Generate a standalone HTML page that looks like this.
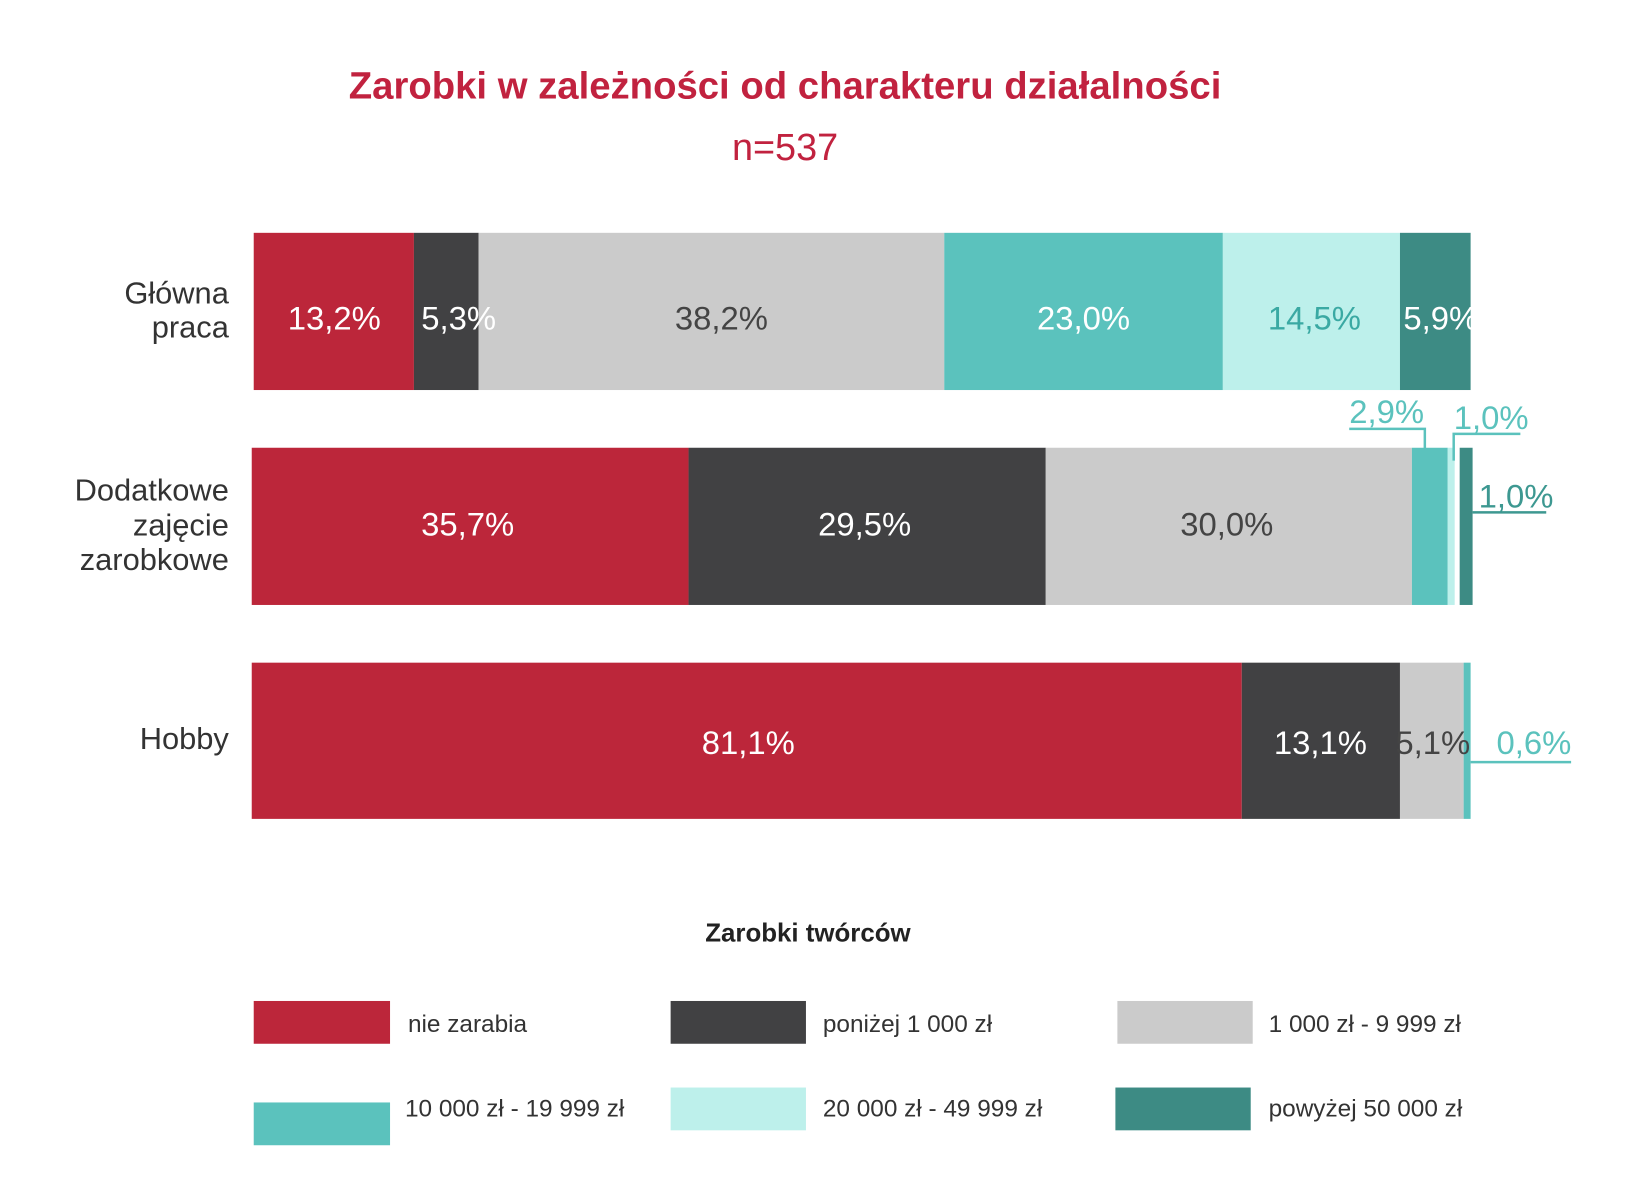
<!DOCTYPE html>
<html><head><meta charset="utf-8"><style>
body{margin:0;background:#fff;}
svg{display:block;font-family:"Liberation Sans",sans-serif;}
</style></head><body>
<svg width="1630" height="1178" viewBox="0 0 1630 1178">
<g transform="scale(0.995)">
<text x="789" y="99" text-anchor="middle" font-size="38.5" font-weight="bold" fill="#c1223f">Zarobki w zależności od charakteru działalności</text>
<text x="789" y="161" text-anchor="middle" font-size="38" fill="#c1223f">n=537</text>
<g font-size="31" fill="#333" text-anchor="end">
<text x="230" y="305">Główna</text><text x="230" y="339">praca</text>
<text x="230" y="503">Dodatkowe</text><text x="230" y="538">zajęcie</text><text x="230" y="573">zarobkowe</text>
<text x="230" y="753">Hobby</text>
</g>
<rect x="255" y="234" width="161" height="158" fill="#bc263a"/>
<rect x="416" y="234" width="65" height="158" fill="#414143"/>
<rect x="481" y="234" width="468" height="158" fill="#cbcbcb"/>
<rect x="949" y="234" width="280" height="158" fill="#5bc2bd"/>
<rect x="1229" y="234" width="178" height="158" fill="#bdf0eb"/>
<rect x="1407" y="234" width="71" height="158" fill="#3d8b84"/>
<rect x="253" y="450" width="439" height="158" fill="#bc263a"/>
<rect x="692" y="450" width="359" height="158" fill="#414143"/>
<rect x="1051" y="450" width="368" height="158" fill="#cbcbcb"/>
<rect x="1419" y="450" width="36" height="158" fill="#5bc2bd"/>
<rect x="1455" y="450" width="7" height="158" fill="#bdf0eb"/>
<rect x="1467" y="450" width="13" height="158" fill="#3d8b84"/>
<rect x="253" y="666" width="995" height="157" fill="#bc263a"/>
<rect x="1248" y="666" width="159" height="157" fill="#414143"/>
<rect x="1407" y="666" width="64" height="157" fill="#cbcbcb"/>
<rect x="1471" y="666" width="7" height="157" fill="#5bc2bd"/>
<g font-size="33" text-anchor="middle">
<text x="336" y="331" fill="#fff">13,2%</text>
<text x="461" y="331" fill="#fff">5,3%</text>
<text x="725" y="331" fill="#444">38,2%</text>
<text x="1089" y="331" fill="#fff">23,0%</text>
<text x="1321" y="331" fill="#3aa9a3">14,5%</text>
<text x="1448" y="331" fill="#fff">5,9%</text>
<text x="470" y="538" fill="#fff">35,7%</text>
<text x="869" y="538" fill="#fff">29,5%</text>
<text x="1233" y="538" fill="#444">30,0%</text>
<text x="752" y="758" fill="#fff">81,1%</text>
<text x="1327" y="758" fill="#fff">13,1%</text>
<text x="1440" y="758" fill="#444">5,1%</text>
</g>
<g font-size="33" fill="#5bc2bd" stroke-width="2.5">
<text x="1356" y="425">2,9%</text>
<polyline points="1356,431 1432,431 1432,451" fill="none" stroke="#5bc2bd"/>
<text x="1461" y="431">1,0%</text>
<polyline points="1528,436 1461,436 1461,463" fill="none" stroke="#5bc2bd"/>
<text x="1486" y="510" fill="#3d9891">1,0%</text>
<line x1="1480" y1="515" x2="1554" y2="515" stroke="#3d9891"/>
<text x="1504" y="758">0,6%</text>
<line x1="1478" y1="766" x2="1579" y2="766" stroke="#5bc2bd"/>
</g>
<text x="812" y="946" text-anchor="middle" font-size="26" font-weight="bold" fill="#222">Zarobki twórców</text>
<rect x="255" y="1006" width="137" height="43" fill="#bc263a"/>
<rect x="674" y="1006" width="136" height="43" fill="#414143"/>
<rect x="1123" y="1006" width="136" height="43" fill="#cbcbcb"/>
<rect x="255" y="1108" width="137" height="43" fill="#5bc2bd"/>
<rect x="674" y="1093" width="136" height="43" fill="#bdf0eb"/>
<rect x="1121" y="1093" width="136" height="43" fill="#3d8b84"/>
<g font-size="24.5" fill="#333">
<text x="410" y="1037">nie zarabia</text>
<text x="827" y="1037">poniżej 1 000 zł</text>
<text x="1275" y="1037">1 000 zł - 9 999 zł</text>
<text x="407" y="1122">10 000 zł - 19 999 zł</text>
<text x="827" y="1122">20 000 zł - 49 999 zł</text>
<text x="1275" y="1122">powyżej 50 000 zł</text>
</g>
</g>
</svg>
</body></html>
